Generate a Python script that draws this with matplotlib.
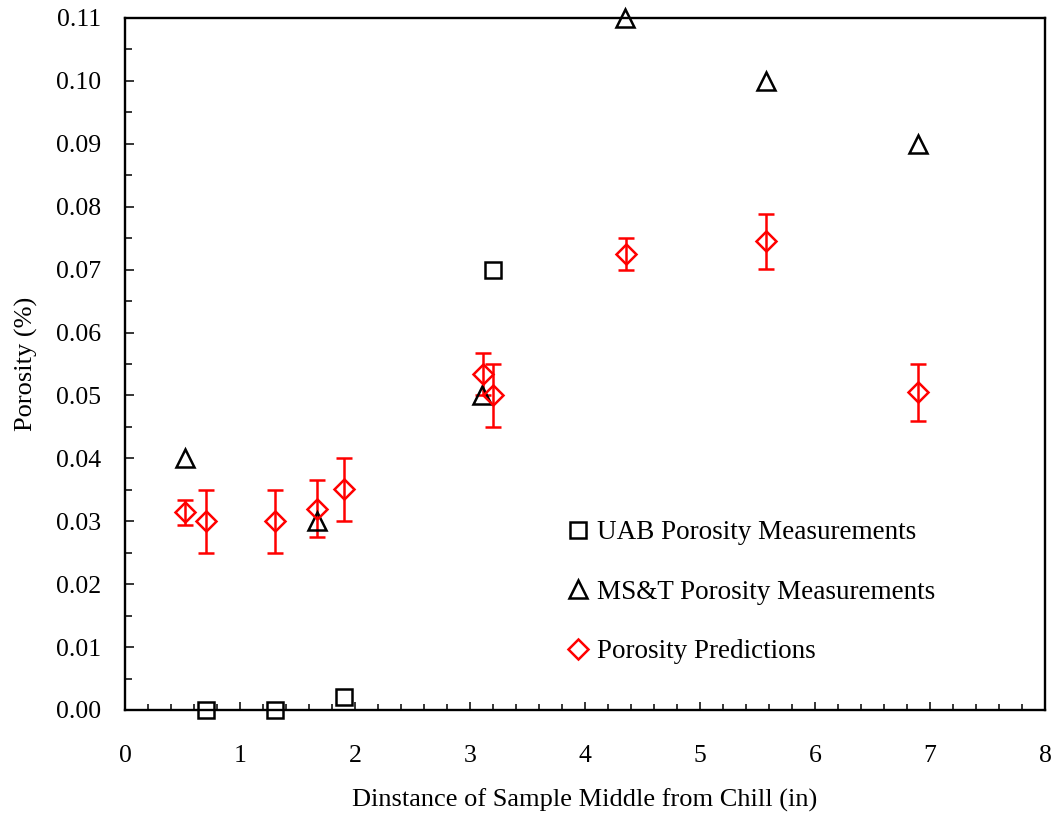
import matplotlib
matplotlib.use("Agg")
import matplotlib.pyplot as plt
from matplotlib.ticker import MultipleLocator, FormatStrFormatter

plt.rcParams['font.family'] = ['Liberation Serif', 'DejaVu Serif']

# UAB porosity measurements
uab_x = [0.70, 1.30, 1.90, 3.20]
uab_y = [0.000, 0.000, 0.002, 0.070]

# MS&T porosity measurements
mst_x = [0.52, 1.67, 3.10, 4.35, 5.57, 6.90]
mst_y = [0.040, 0.030, 0.050, 0.110, 0.100, 0.090]

# Porosity predictions with uncertainty
pred_x = [0.52, 0.70, 1.30, 1.67, 1.90, 3.11, 3.20, 4.36, 5.57, 6.90]
pred_y = [0.0314, 0.0300, 0.0300, 0.0320, 0.0351, 0.0534, 0.0500, 0.0725, 0.0745, 0.0505]
pred_err = [0.0020, 0.0050, 0.0050, 0.0045, 0.0050, 0.0033, 0.0050, 0.0025, 0.0044, 0.0045]

fig = plt.figure(figsize=(10.57, 8.13), dpi=100)
ax = fig.add_axes([0.1183, 0.1267, 0.8703, 0.8512])

lw = 1.8
ax.errorbar(pred_x, pred_y, yerr=pred_err, fmt='none', ecolor='red',
            elinewidth=lw, capsize=5.5, capthick=lw, zorder=2, clip_on=False)
ax.plot(uab_x, uab_y, linestyle='none', marker='s', markersize=11.5,
        markerfacecolor='none', markeredgecolor='black', markeredgewidth=lw,
        label='UAB Porosity Measurements', zorder=3, clip_on=False)
ax.plot(mst_x, mst_y, linestyle='none', marker='^', markersize=13,
        markerfacecolor='none', markeredgecolor='black', markeredgewidth=lw,
        label='MS&T Porosity Measurements', zorder=3, clip_on=False)
ax.plot(pred_x, pred_y, linestyle='none', marker='D', markersize=10.5,
        markerfacecolor='none', markeredgecolor='red', markeredgewidth=lw,
        label='Porosity Predictions', zorder=4, clip_on=False)

ax.set_xlim(0, 8)
ax.set_ylim(0, 0.11)
ax.xaxis.set_major_locator(MultipleLocator(1))
ax.xaxis.set_minor_locator(MultipleLocator(0.2))
ax.yaxis.set_major_locator(MultipleLocator(0.01))
ax.yaxis.set_minor_locator(MultipleLocator(0.005))
ax.yaxis.set_major_formatter(FormatStrFormatter('%.2f'))

for s in ax.spines.values():
    s.set_linewidth(1.7)

ax.tick_params(axis='both', which='both', direction='in', top=False, right=False,
               labelsize=18.5, width=1.1)
ax.tick_params(axis='x', which='major', length=6, pad=25)
ax.tick_params(axis='x', which='minor', length=4.5)
ax.tick_params(axis='y', which='major', length=6.5, pad=17.5)
ax.tick_params(axis='y', which='minor', length=5)

ax.set_xlabel('Dinstance of Sample Middle from Chill (in)', fontsize=19, labelpad=16)
ax.set_ylabel('Porosity (%)', fontsize=19, labelpad=12.5)

ax.legend(loc='upper left', bbox_to_anchor=(0.469, 0.29), frameon=False,
          fontsize=19.5, labelspacing=1.28, handlelength=0.8, handletextpad=0.3,
          borderaxespad=0)

fig.savefig('out.png', dpi=100)
